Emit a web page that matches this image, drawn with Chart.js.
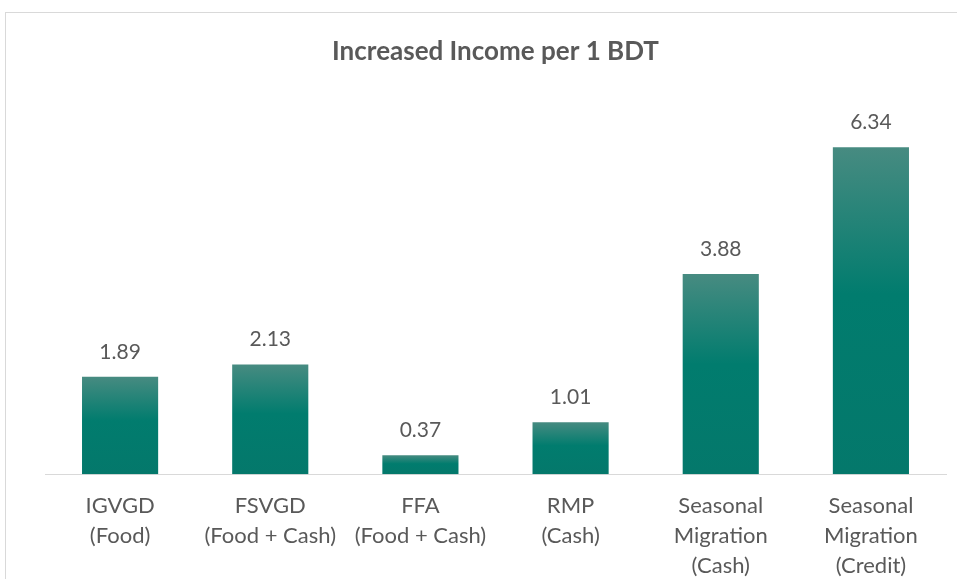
<!DOCTYPE html>
<html>
<head>
<meta charset="utf-8">
<script src="https://cdn.jsdelivr.net/npm/chart.js@4"></script>
<style>
    html, body { margin: 0; padding: 0; background: #fff; overflow: hidden; }
    #frame { position: absolute; left: 5px; top: 12px; width: 1000px; height: 700px; border: 1px solid #d9d9d9; }
    #wrap { position: absolute; left: 0; top: 0; width: 957px; height: 598px; }
</style>
</head>
<body>
<div id="frame"></div>
<div id="wrap"><canvas id="incomeChart"></canvas></div>
<script>
// ========== DATA ==========
const categories = [
    ['IGVGD', '(Food)'],
    ['FSVGD', '(Food + Cash)'],
    ['FFA', '(Food + Cash)'],
    ['RMP', '(Cash)'],
    ['Seasonal', 'Migration', '(Cash)'],
    ['Seasonal', 'Migration', '(Credit)']
];
const incomePerBdt = [1.89, 2.13, 0.37, 1.01, 3.88, 6.34];
const chartTitle = 'Increased Income per 1 BDT';

const textColor = '#595959';
const fontFamily = 'Lato, "Open Sans", sans-serif';

// Gradient per bar: lighter teal at the top, solid teal below
function barFill(context) {
    const chart = context.chart;
    const area = chart.chartArea;
    if (!area || context.type !== 'data') return '#007a6c';
    const yScale = chart.scales.y;
    const top = yScale.getPixelForValue(context.raw);
    const bottom = yScale.getPixelForValue(0);
    const grad = chart.ctx.createLinearGradient(0, top, 0, bottom);
    grad.addColorStop(0, '#478b81');
    grad.addColorStop(0.45, '#017c6e');
    grad.addColorStop(1, '#04786b');
    return grad;
}

// Simple value labels above each bar
const valueLabels = {
    id: 'valueLabels',
    afterDatasetsDraw(chart) {
        const ctx = chart.ctx;
        const meta = chart.getDatasetMeta(0);
        ctx.save();
        ctx.font = '21px ' + fontFamily;
        ctx.fillStyle = textColor;
        ctx.textAlign = 'center';
        ctx.textBaseline = 'middle';
        meta.data.forEach((bar, i) => {
            ctx.fillText(incomePerBdt[i].toFixed(2), bar.x, bar.y - 25);
        });
        ctx.restore();
    }
};

const incomeChart = document.getElementById('incomeChart');
new Chart(incomeChart, {
    type: 'bar',
    data: {
        labels: categories,
        datasets: [{
            data: incomePerBdt,
            backgroundColor: barFill,
            borderWidth: 0,
            categoryPercentage: 1,
            barPercentage: 0.507
        }]
    },
    options: {
        responsive: true,
        maintainAspectRatio: false,
        animation: false,
        layout: {
            padding: { left: 45, right: 11, top: 0, bottom: 0 }
        },
        plugins: {
            legend: { display: false },
            tooltip: { enabled: false },
            title: {
                display: true,
                text: chartTitle,
                color: textColor,
                font: { family: fontFamily, size: 26, weight: 'bold', lineHeight: 1.2 },
                padding: { top: 36, bottom: 46 }
            }
        },
        scales: {
            x: {
                grid: { display: false, drawTicks: false },
                border: { display: true, color: '#d9d9d9', width: 1 },
                ticks: {
                    color: textColor,
                    padding: 17,
                    maxRotation: 0,
                    autoSkip: false,
                    font: { family: fontFamily, size: 22, lineHeight: 1.36 }
                }
            },
            y: {
                display: false,
                min: 0,
                max: 7
            }
        }
    },
    plugins: [valueLabels]
});
</script>
</body>
</html>
